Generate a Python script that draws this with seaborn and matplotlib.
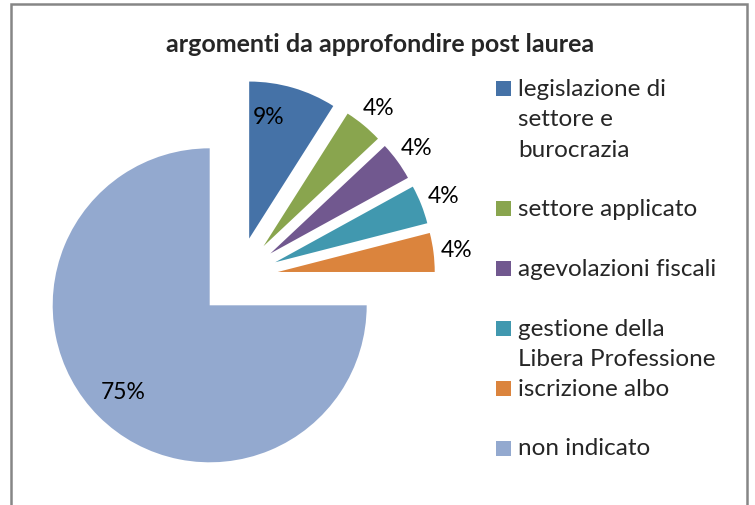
import numpy as np
import matplotlib
matplotlib.use("Agg")
import matplotlib.pyplot as plt
from matplotlib.patches import Rectangle
import seaborn as sns

# ---- data ----
categories = ["legislazione di\nsettore e\nburocrazia", "settore applicato", "agevolazioni fiscali",
              "gestione della\nLibera Professione", "iscrizione albo", "non indicato"]
percentages = [9, 4, 4, 4, 4, 75]
title = "argomenti da approfondire post laurea"
colors = ["#4572A7", "#89A54E", "#71588F", "#4198AF", "#DB843D", "#93A9CF"]

sns.set_theme(style="white")
plt.rcParams["font.family"] = ["Lato", "DejaVu Sans"]

W, H = 755, 506
fig = plt.figure(figsize=(W / 100, H / 100), dpi=100)
ax = fig.add_axes([0, 0, 1, 1])

palette = sns.color_palette(colors)
R = 157
wedges, texts, autotexts = ax.pie(
    percentages, colors=palette, startangle=90, counterclock=False,
    explode=[0.255 * R] * len(percentages), radius=R, center=(238, H - 278),
    autopct=lambda p: f"{p:.0f}%", pctdistance=0.78,
    textprops=dict(fontsize=16.5, color="black"),
    wedgeprops=dict(linewidth=0))

for w, t, p in zip(wedges, autotexts, percentages):
    cx, cy = w.center
    if p < 5:
        th = np.deg2rad((w.theta1 + w.theta2) / 2)
        t.set_position((cx + 1.15 * R * np.cos(th), cy + 1.15 * R * np.sin(th)))
    elif p < 20:
        th = np.deg2rad((w.theta1 + w.theta2) / 2 + 7)
        t.set_position((cx + 0.79 * R * np.cos(th), cy + 0.79 * R * np.sin(th)))

ax.set_xlim(0, W)
ax.set_ylim(0, H)
ax.set_aspect("equal")
ax.axis("off")

# title
ax.text(380, H - 44, title, ha="center", va="center", fontsize=18, fontweight="bold")

# legend (manual, matching the original layout)
rows = [0, 2, 3, 4, 5, 6]
for c, lab, r in zip(palette, categories, rows):
    ybase = 97 + 60 * r
    ax.add_patch(Rectangle((496, H - ybase), 15, 15, facecolor=c, edgecolor="none"))
    ax.text(518, H - ybase + 18.5, lab, ha="left", va="top", fontsize=17.5, linespacing=1.56)

# chart border
ax.plot([11, 11, 747, 747], [-5, H - 5, H - 5, -5], color="#868686", lw=1.8,
        solid_joinstyle="miter", clip_on=False)

fig.savefig("out.png", dpi=100)
